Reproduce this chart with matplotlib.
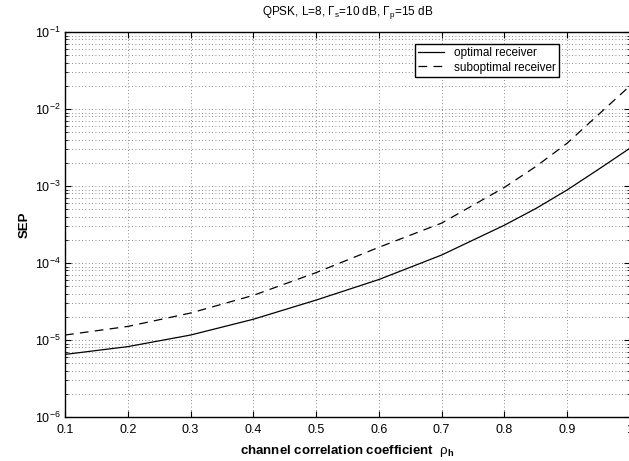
import numpy as np
import matplotlib
matplotlib.use('Agg')
import matplotlib.pyplot as plt
from matplotlib.ticker import LogLocator, NullFormatter

plt.rcParams['font.family'] = ['Liberation Sans', 'DejaVu Sans']
plt.rcParams['mathtext.fontset'] = 'custom'
plt.rcParams['mathtext.rm'] = 'Liberation Sans'
plt.rcParams['mathtext.it'] = 'Liberation Sans'
plt.rcParams['mathtext.bf'] = 'Liberation Sans:bold'

# data
rho = [0.1, 0.2, 0.3, 0.4, 0.5, 0.6, 0.7, 0.8, 0.85, 0.9, 0.95, 1.0]
sep_opt = [6.5e-6, 8.2e-6, 1.16e-5, 1.86e-5, 3.3e-5, 6.1e-5, 1.27e-4,
           3.1e-4, 5.1e-4, 8.9e-4, 1.65e-3, 3.1e-3]
sep_subopt = [1.16e-5, 1.5e-5, 2.24e-5, 3.8e-5, 7.5e-5, 1.6e-4, 3.3e-4,
              9.6e-4, 1.79e-3, 3.6e-3, 8.5e-3, 2.0e-2]
xticks = [0.1, 0.2, 0.3, 0.4, 0.5, 0.6, 0.7, 0.8, 0.9, 1.0]
xticklabels = ['0.1', '0.2', '0.3', '0.4', '0.5', '0.6', '0.7', '0.8', '0.9', '1']

fig = plt.figure(figsize=(6.29, 4.61), dpi=100)
W, H = 629, 461
ax = fig.add_axes([65 / W, (H - 417) / H, 565 / W, 385 / H])

ax.plot(rho, sep_opt, 'k-', lw=0.9, label='optimal receiver')
ax.plot(rho, sep_subopt, 'k--', lw=0.9, dashes=(7, 5), label='suboptimal receiver')

ax.set_yscale('log')
ax.set_xlim(0.1, 1.0)
ax.set_ylim(1e-6, 1e-1)
ax.set_xticks(xticks)
ax.set_xticklabels(xticklabels)
ax.yaxis.set_major_locator(LogLocator(base=10, numticks=10))
ax.yaxis.set_minor_locator(LogLocator(base=10, subs=np.arange(2, 10), numticks=20))
ax.yaxis.set_minor_formatter(NullFormatter())

ax.grid(True, which='major', axis='x', color='#666666', linestyle=(0, (1, 3)), lw=0.6)
ax.grid(True, which='both', axis='y', color='#666666', linestyle=(0, (1, 3)), lw=0.6)

ax.tick_params(which='both', direction='in', top=True, right=True, labelsize=9)
ax.tick_params(which='major', length=4, width=0.8, pad=3)
ax.tick_params(which='minor', length=2, width=0.6)
ax.tick_params(axis='x', which='major', pad=5)
for s in ax.spines.values():
    s.set_linewidth(1.0)

ax.set_title(r'QPSK, L=8, $\Gamma_\mathrm{s}$=10 dB, $\Gamma_\mathrm{p}$=15 dB', fontsize=8.5, pad=12)
ax.set_ylabel('SEP', fontsize=9.5, fontweight='bold', labelpad=3)
ax.set_xlabel(r'channel correlation coefficient  $\rho_\mathbf{h}$', fontsize=9.5,
              fontweight='bold', labelpad=5)

leg = ax.legend(loc='upper right', bbox_to_anchor=(0.885, 0.985), fontsize=8.5,
                fancybox=False, framealpha=1, edgecolor='black', handlelength=2.2,
                borderpad=0.3, labelspacing=0.2)
leg.get_frame().set_linewidth(1.0)

fig.savefig('out.png', dpi=100)
